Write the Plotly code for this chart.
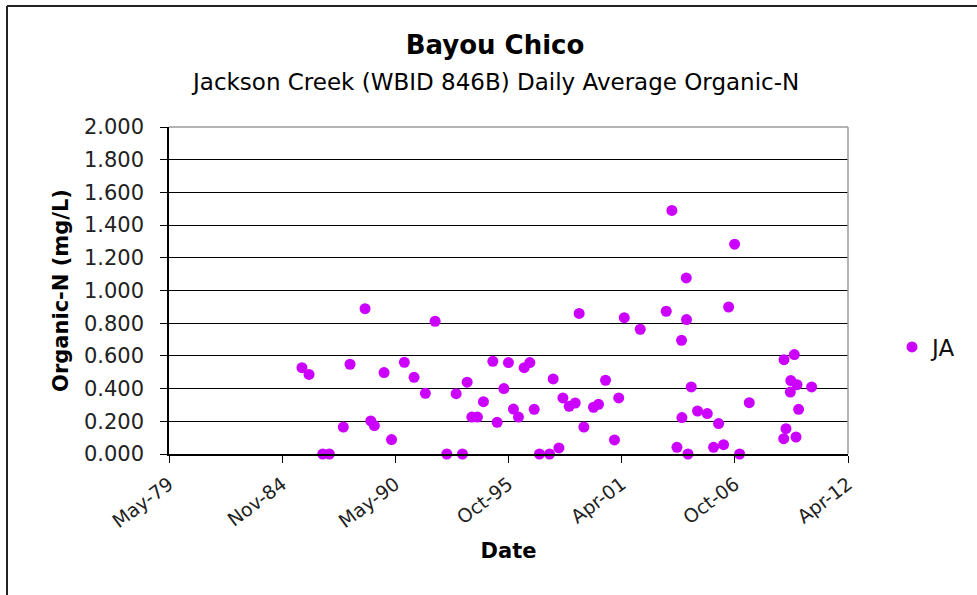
import plotly.graph_objects as go

# ---- data ----
dates = [
    "1985-10-30", "1986-03-04", "1986-11-01", "1987-02-25", "1987-10-31", "1988-02-26", "1988-11-18", "1989-02-27", "1989-05-01", "1989-10-20",
    "1990-03-01", "1990-10-13", "1991-04-03", "1991-10-20", "1992-04-09", "1992-11-02", "1993-04-16", "1993-08-05", "1993-10-27", "1994-01-18",
    "1994-04-27", "1994-08-11", "1995-01-24", "1995-04-10", "1995-08-07", "1995-10-27", "1996-01-23", "1996-04-21", "1996-07-31", "1996-11-08",
    "1997-01-24", "1997-04-27", "1997-10-22", "1997-12-26", "1998-04-06", "1998-06-15", "1998-10-04", "1999-01-19", "1999-03-30", "1999-06-21",
    "1999-12-08", "2000-03-06", "2000-07-08", "2000-12-13", "2001-02-26", "2001-06-04", "2002-03-13", "2003-06-16", "2003-09-24", "2003-12-22",
    "2004-03-19", "2004-03-12", "2004-06-04", "2004-06-08", "2004-07-04", "2004-08-31", "2004-12-20", "2005-06-10", "2005-09-29", "2005-12-27",
    "2006-03-25", "2006-06-22", "2006-10-06", "2007-01-02", "2007-06-22", "2009-02-25", "2009-02-20", "2009-04-01", "2009-06-17", "2009-06-25",
    "2009-08-26", "2009-09-25", "2009-10-13", "2009-11-10", "2010-06-28",
]
organic_n = [
    0.528, 0.487, 0.000, 0.000, 0.165, 0.549, 0.889, 0.202, 0.174, 0.498,
    0.088, 0.561, 0.469, 0.371, 0.812, 0.000, 0.369, 0.000, 0.439, 0.226,
    0.226, 0.320, 0.567, 0.194, 0.400, 0.559, 0.275, 0.226, 0.528, 0.559,
    0.273, 0.000, 0.000, 0.459, 0.037, 0.343, 0.292, 0.312, 0.860, 0.165,
    0.286, 0.304, 0.451, 0.086, 0.343, 0.834, 0.763, 0.873, 1.490, 0.041,
    0.223, 0.695, 1.077, 0.822, 0.000, 0.410, 0.263, 0.247, 0.041, 0.186,
    0.057, 0.899, 1.283, 0.000, 0.314, 0.577, 0.094, 0.155, 0.379, 0.449,
    0.608, 0.104, 0.424, 0.273, 0.410,
]
series_name = "JA"

x_tick_vals = ["1979-05-25", "1984-11-14", "1990-05-06", "1995-10-28", "2001-04-19", "2006-10-10", "2012-04-01"]
x_tick_text = ["May-79", "Nov-84", "May-90", "Oct-95", "Apr-01", "Oct-06", "Apr-12"]
y_tick_vals = [0.0, 0.2, 0.4, 0.6, 0.8, 1.0, 1.2, 1.4, 1.6, 1.8, 2.0]

title_text = "Bayou Chico"
subtitle_text = "Jackson Creek (WBID 846B) Daily Average Organic-N"
x_title = "Date"
y_title = "Organic-N (mg/L)"

FONT = "DejaVu Sans"
W, H = 977, 595
ML, MR, MT, MB = 169, 129, 127, 141
PW, PH = W - ML - MR, H - MT - MB

fig = go.Figure()
fig.add_trace(go.Scatter(
    x=dates, y=organic_n, mode="markers", name=series_name,
    marker=dict(color="#CC00FF", size=11, line=dict(width=0)),
    cliponaxis=False,
))

fig.update_layout(
    width=W, height=H,
    margin=dict(l=ML, r=MR, t=MT, b=MB, autoexpand=False),
    paper_bgcolor="white", plot_bgcolor="white",
    font=dict(family=FONT, color="#111111"),
    title=dict(text="<b>" + title_text + "</b>", x=495 / W, xref="container", xanchor="center",
               y=1 - 45 / H, yref="container", yanchor="middle",
               font=dict(size=26, family=FONT, color="black")),
    showlegend=True,
    legend=dict(x=(892 - ML) / PW, xanchor="left", y=(454 - 347) / PH, yanchor="middle",
                bgcolor="rgba(0,0,0,0)", font=dict(size=23, family=FONT, color="#111111")),
    xaxis=dict(
        type="date", range=[x_tick_vals[0], x_tick_vals[-1]],
        tickmode="array", tickvals=x_tick_vals, ticktext=x_tick_text,
        tickangle=-37, tickfont=dict(size=19, family=FONT, color="#222222"),
        ticks="outside", ticklen=7, tickwidth=1.3, tickcolor="black",
        ticklabelstandoff=3,
        showline=True, linecolor="black", linewidth=1.5,
        showgrid=False, zeroline=False,
        title=dict(text="<b>" + x_title + "</b>", font=dict(size=21, family=FONT, color="black"), standoff=12),
    ),
    yaxis=dict(
        range=[0, 2.0], tickmode="array", tickvals=y_tick_vals, tickformat=".3f",
        tickfont=dict(size=21, family=FONT, color="#222222"),
        ticks="outside", ticklen=7, tickwidth=1.3, tickcolor="black",
        ticklabelstandoff=12,
        showline=True, linecolor="black", linewidth=1.5,
        showgrid=True, gridcolor="black", gridwidth=1.2, zeroline=False,
        title=dict(text="<b>" + y_title + "</b>", font=dict(size=21, family=FONT, color="black"), standoff=10),
    ),
    annotations=[dict(text=subtitle_text, xref="paper", yref="paper",
                      x=(495 - ML) / PW, y=(454 - 82) / PH, xanchor="center", yanchor="middle",
                      showarrow=False, font=dict(size=23, family=FONT, color="black"))],
    shapes=[
        # plot-area border (top and right, grey)
        dict(type="line", xref="paper", yref="paper", x0=0, x1=1, y0=1, y1=1,
             line=dict(color="#9a9a9a", width=1.5), layer="above"),
        dict(type="line", xref="paper", yref="paper", x0=1, x1=1, y0=0, y1=1,
             line=dict(color="#9a9a9a", width=1.5), layer="above"),
        # chart-area outer border (left and top visible)
        dict(type="line", xref="paper", yref="paper", x0=(7 - ML) / PW, x1=(1000 - ML) / PW,
             y0=(454 - 6) / PH, y1=(454 - 6) / PH, line=dict(color="#222222", width=2)),
        dict(type="line", xref="paper", yref="paper", x0=(7 - ML) / PW, x1=(7 - ML) / PW,
             y0=(454 - 6) / PH, y1=(454 - 620) / PH, line=dict(color="#222222", width=2)),
    ],
)

fig.write_html("out.html", config={"displayModeBar": False},
               post_script="document.body.style.margin='0';document.body.style.overflow='hidden';")
